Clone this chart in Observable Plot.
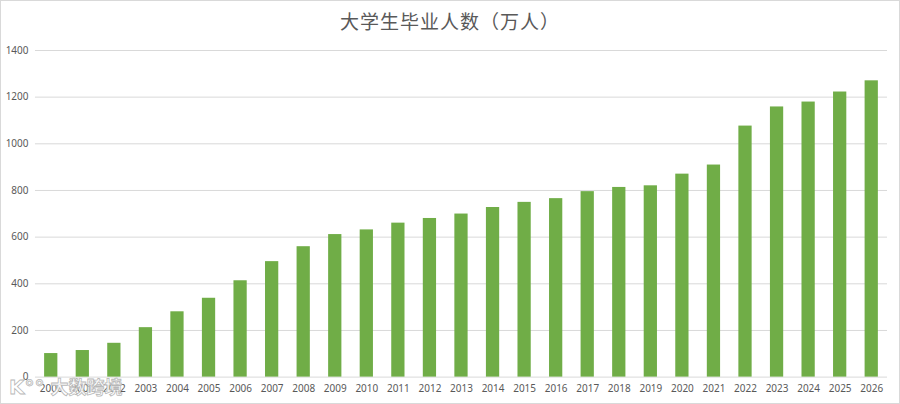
<!DOCTYPE html>
<html>
<head>
<meta charset="utf-8">
<script src="https://cdn.jsdelivr.net/npm/d3@7"></script>
<script src="https://cdn.jsdelivr.net/npm/@observablehq/plot@0.6"></script>
<style>
  html, body { margin: 0; padding: 0; background: #fff; }
  #frame { position: relative; width: 898px; height: 402px; border: 1px solid #d9d9d9; overflow: hidden; font-family: "Noto Sans CJK SC", "Noto Sans", sans-serif; }
  #title { position: absolute; left: 0; top: 6px; width: 898px; text-align: center; font-size: 19px; color: #595959; letter-spacing: 1px; }
  #chart { position: absolute; left: -1px; top: 38px; }
  #wm { position: absolute; left: 8px; top: 372px; font-size: 18px; font-weight: bold; color: rgba(255,255,255,0.85); -webkit-text-stroke: 0.8px #b8b8b8; letter-spacing: 0px; white-space: nowrap; }
  #wm .logo { font-family: "DejaVu Sans", sans-serif; font-size: 20px; margin-right: 6px; }
</style>
</head>
<body>
<div id="frame">
  <div id="title">大学生毕业人数（万人）</div>
  <div id="chart"></div>
  <div id="wm"><span class="logo">K°°</span>大数跨境</div>
</div>
<script>
const years = ["2000","2001","2002","2003","2004","2005","2006","2007","2008","2009","2010","2011","2012","2013","2014","2015","2016","2017","2018","2019","2020","2021","2022","2023","2024","2025","2026"];
const graduates = [101,114,145,212,280,338,413,495,559,611,631,660,680,699,727,749,765,795,813,820,870,909,1076,1158,1179,1222,1270];
const yTicks = [0,200,400,600,800,1000,1200,1400];

const data = years.map((y, i) => ({year: y, value: graduates[i]}));

const chart = Plot.plot({
  width: 900,
  height: 364,
  marginTop: 11,
  marginBottom: 26,
  marginLeft: 35,
  marginRight: 12,
  style: {fontFamily: "'Noto Sans', 'DejaVu Sans', sans-serif", fontSize: "10px", color: "#595959", background: "transparent"},
  x: {domain: years, paddingInner: 0.58, paddingOuter: 0.29, align: 0.5, round: false, label: null},
  y: {domain: [0, 1400], label: null},
  marks: [
    Plot.gridY(yTicks, {stroke: "#d9d9d9", strokeOpacity: 1, strokeWidth: 1}),
    Plot.barY(data, {x: "year", y: "value", fill: "#70AD47"}),
    Plot.axisY(yTicks, {tickSize: 0, tickPadding: 7, label: null, fill: "#595959", tickFormat: d => String(d)}),
    Plot.axisX({tickSize: 0, tickPadding: 8, label: null, fill: "#595959"})
  ]
});
document.getElementById("chart").appendChild(chart);
</script>
</body>
</html>
